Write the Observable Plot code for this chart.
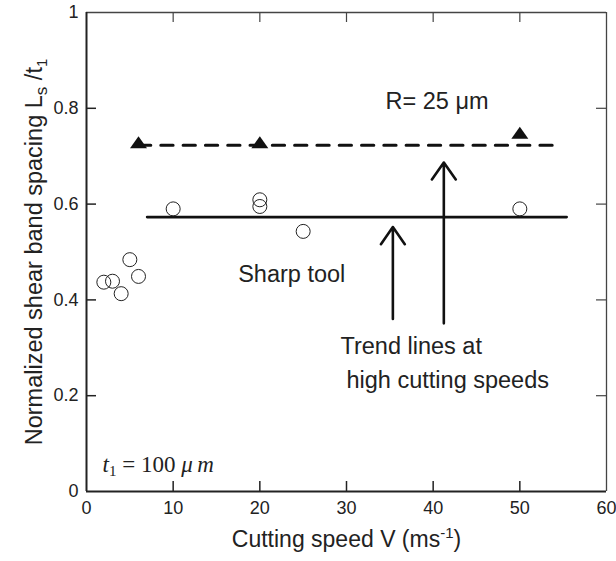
<!DOCTYPE html>
<html>
<head>
<meta charset="utf-8">
<script src="https://cdn.jsdelivr.net/npm/d3@7"></script>
<script src="https://cdn.jsdelivr.net/npm/@observablehq/plot@0.6"></script>
<style>
  html, body { margin: 0; padding: 0; background: #fff; }
  #chart { width: 616px; height: 561px; }
</style>
</head>
<body>
<div id="chart"></div>
<script>
// ---- data ----
const xTicks = [0, 10, 20, 30, 40, 50, 60];
const yTicks = [0, 0.2, 0.4, 0.6, 0.8, 1];
const innerXTicks = [10, 20, 30, 40, 50];
const innerYTicks = [0.2, 0.4, 0.6, 0.8];

// Sharp tool (open circles)
const sharpV  = [2, 3, 4, 5, 6, 10, 20, 20, 25, 50];
const sharpLs = [0.437, 0.439, 0.413, 0.484, 0.449, 0.590, 0.609, 0.595, 0.543, 0.590];

// R = 25 um (filled triangles)
const roundV  = [6, 20, 50];
const roundLs = [0.729, 0.729, 0.749];

// Trend lines
const sharpTrendV  = [7.0, 55.4];
const sharpTrendLs = [0.573, 0.573];
const roundTrendV  = [6.0, 54.2];
const roundTrendLs = [0.723, 0.723];

// Arrows
const arrowV    = [35.35, 41.23];
const arrowFrom = [0.360, 0.351];
const arrowTo   = [0.552, 0.687];

// Annotations
const noteText = ["R= 25 \u03bcm", "Sharp tool", "Trend lines at", "high cutting speeds"];
const noteV    = [34.5, 17.5, 29.3, 30.0];
const noteLs   = [0.799, 0.437, 0.2874, 0.2165];

const t1Text = "t1 = 100 \u03bcm";
const t1V = [1.85];
const t1Ls = [0.040];

const xTitle = "Cutting speed V (ms-1)";
const yTitle = "Normalized shear band spacing Ls /t1";

// ---- chart ----
const idx = a => a.map((_, i) => i);
const ink = "#222";

const flatTriangle = {
  draw(context, size) {
    const r = Math.sqrt(size / Math.PI);
    context.moveTo(0, -0.7 * r);
    context.lineTo(r, 0.7 * r);
    context.lineTo(-r, 0.7 * r);
    context.closePath();
  }
};

const chart = Plot.plot({
  width: 616,
  height: 561,
  marginLeft: 86,
  marginRight: 10,
  marginTop: 12,
  marginBottom: 70,
  style: { fontFamily: "'Liberation Sans', Arial, sans-serif", background: "#fff", color: ink },
  x: { domain: [0, 60] },
  y: { domain: [0, 1] },
  marks: [
    // inward ticks
    Plot.tickX(innerXTicks, { x: d => d, insetTop: 469, stroke: ink, strokeWidth: 1.5 }),
    Plot.tickX(innerXTicks, { x: d => d, insetBottom: 469, stroke: "#444", strokeWidth: 1.2 }),
    Plot.tickY(innerYTicks, { y: d => d, insetRight: 510, stroke: ink, strokeWidth: 1.5 }),
    Plot.tickY(innerYTicks, { y: d => d, insetLeft: 510, stroke: "#444", strokeWidth: 1.2 }),
    // frame
    Plot.ruleX([60], { stroke: "#444", strokeWidth: 1.3 }),
    Plot.ruleY([1], { stroke: "#444", strokeWidth: 1.3 }),
    Plot.ruleX([0], { stroke: ink, strokeWidth: 2 }),
    Plot.ruleY([0], { stroke: ink, strokeWidth: 2 }),
    // tick labels
    Plot.axisX({ ticks: xTicks, tickSize: 0, tickPadding: 10, fontSize: 18, tickFormat: d => String(d) }),
    Plot.axisY({ ticks: yTicks, tickSize: 0, tickPadding: 8, fontSize: 18, tickFormat: d => String(d), label: null }),
    // trend lines
    Plot.line(idx(roundTrendV), { x: i => roundTrendV[i], y: i => roundTrendLs[i], stroke: "#111", strokeWidth: 3, strokeDasharray: "12.3,10" }),
    Plot.line(idx(sharpTrendV), { x: i => sharpTrendV[i], y: i => sharpTrendLs[i], stroke: "#111", strokeWidth: 2.7 }),
    // data
    Plot.dot(idx(sharpV), { x: i => sharpV[i], y: i => sharpLs[i], r: 7, stroke: ink, strokeWidth: 1, fill: "none" }),
    Plot.dot(idx(roundV), { x: i => roundV[i], y: i => roundLs[i], r: 8.5, symbol: flatTriangle, fill: "#111", stroke: "none" }),
    // arrows
    Plot.arrow(idx(arrowV), { x1: i => arrowV[i], x2: i => arrowV[i], y1: i => arrowFrom[i], y2: i => arrowTo[i],
      stroke: "#111", strokeWidth: 2.6, headLength: 12, headAngle: 70 }),
    // annotations
    Plot.text(idx(noteText), { x: i => noteV[i], y: i => noteLs[i], text: i => noteText[i],
      textAnchor: "start", lineAnchor: "bottom", fontSize: 23.5, fill: ink }),
    Plot.text([t1Text], { x: () => t1V[0], y: () => t1Ls[0], text: d => d,
      textAnchor: "start", lineAnchor: "bottom", fontSize: 23, fontFamily: "'Liberation Serif', 'Times New Roman', serif", fill: ink }),
    // axis titles
    Plot.text([xTitle], { frameAnchor: "bottom", dy: 55, text: d => d, textAnchor: "middle", lineAnchor: "bottom", fontSize: 23, fill: ink }),
    Plot.text([yTitle], { frameAnchor: "left", dx: -45, rotate: -90, text: d => d, textAnchor: "middle", lineAnchor: "bottom", fontSize: 23.5, fill: ink })
  ]
});

// rich text (sub/superscripts)
chart.querySelectorAll("text").forEach(t => {
  const s = t.textContent;
  if (s === yTitle) {
    t.innerHTML = 'Normalized shear band spacing L<tspan font-size="17" dy="5">s</tspan><tspan dy="-5"> /t</tspan><tspan font-size="15" dy="5">1</tspan>';
  } else if (s === xTitle) {
    t.innerHTML = 'Cutting speed V (ms<tspan font-size="15" dy="-9">-1</tspan><tspan dy="9">)</tspan>';
  } else if (s === t1Text) {
    t.innerHTML = '<tspan font-style="italic">t</tspan><tspan font-size="15" dy="4">1</tspan><tspan dy="-4"> = 100 </tspan><tspan font-style="italic">\u03bc\u2009m</tspan>';
  }
});

document.getElementById("chart").appendChild(chart);
</script>
</body>
</html>
